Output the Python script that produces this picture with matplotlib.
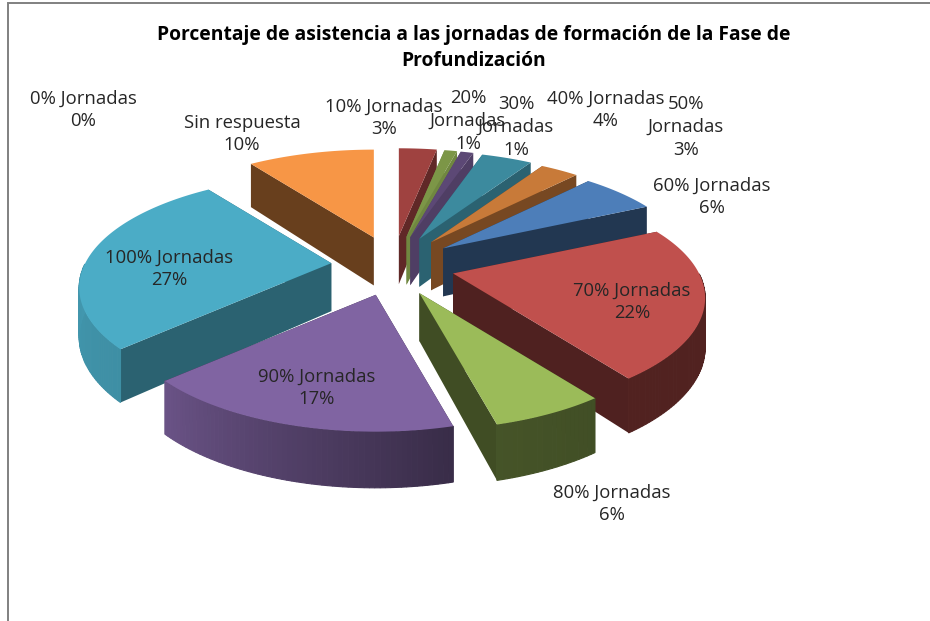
import numpy as np
import matplotlib
matplotlib.use("Agg")
import matplotlib.pyplot as plt
from matplotlib.colors import to_rgb
from matplotlib.patches import Polygon

# data, clockwise from 12 o'clock
categories = ["0% Jornadas", "10% Jornadas", "20% Jornadas", "30% Jornadas", "40% Jornadas",
              "50% Jornadas", "60% Jornadas", "70% Jornadas", "80% Jornadas", "90% Jornadas",
              "100% Jornadas", "Sin respuesta"]
values = [0, 3, 1, 1, 4, 3, 6, 22, 6, 17, 27, 10]
colors = ["#4F81BD", "#C0504D", "#9BBB59", "#8064A2", "#4BACC6", "#F79646",
          "#4F81BD", "#C0504D", "#9BBB59", "#8064A2", "#4BACC6", "#F79646"]
top_shade = [1, 0.83, 0.8, 0.72, 0.8, 0.81, 0.98, 1, 1, 1, 1, 1]
cut_shade = [0.42, 0.5, 0.72, 0.62, 0.57, 0.48, 0.43, 0.41, 0.41, 0.42, 0.57, 0.42]
title = "Porcentaje de asistencia a las jornadas de formación de la Fase de\nProfundización"

# label text as wrapped in the chart, with its centre in pixels
label_text = ["0% Jornadas\n0%", "10% Jornadas\n3%", "20%\nJornadas\n1%", "30%\nJornadas\n1%",
              "40% Jornadas\n4%", "50%\nJornadas\n3%", "60% Jornadas\n6%", "70% Jornadas\n22%",
              "80% Jornadas\n6%", "90% Jornadas\n17%", "100% Jornadas\n27%", "Sin respuesta\n10%"]
label_pos = [(83, 110), (384, 118), (468, 121), (516, 127), (606, 110), (686, 127), (712, 197),
             (632, 302), (612, 504), (317, 388), (169, 269), (242, 134)]

plt.rcParams["font.family"] = ["Open Sans", "DejaVu Sans"]

CX, CY = 393, 266
RX, RY = 246, 107
PERSP = 0.218
OFF_X, OFF_Y = 62, 30
DEPTH = 48


def project(ox, oy, u, v, z=0.0):
    # tip of the slice sits at ox, oy; local disc coords get the perspective, v towards viewer
    w = 1 / (1 - PERSP * v)
    return ox + RX * u * w, oy + RY * v * w + z * DEPTH * w ** 0.64


def shade(col, f):
    return tuple(c * f for c in to_rgb(col))


fig = plt.figure(figsize=(9.3, 6.21), dpi=100)
ax = fig.add_axes([0, 0, 1, 1])
ax.set_xlim(0, 930)
ax.set_ylim(621, 0)
ax.axis("off")

# frame of the chart area, cut off by the screenshot
ax.plot([8, 8, 930], [621, 3, 3], color="#808080", lw=1.4, solid_joinstyle="miter")

slices = []
start = 0.0
total = sum(values)
for val, col, ts, cs in zip(values, colors, top_shade, cut_shade):
    a0 = start / total * 2 * np.pi
    a1 = (start + val) / total * 2 * np.pi
    start += val
    if val == 0:
        continue
    mid = (a0 + a1) / 2
    ox = CX + OFF_X * np.sin(mid)
    oy = CY - OFF_Y * np.cos(mid)
    t = np.linspace(a0, a1, max(3, int((a1 - a0) * 60)))
    slices.append((a0, a1, mid, ox, oy, t, col, ts, cs))


def draw_slice(a0, a1, mid, ox, oy, t, col, ts, cs, zo):
    us = np.sin(t)
    vs = -np.cos(t)
    # radial cut walls
    for a in (a0, a1):
        ue, ve = np.sin(a), -np.cos(a)
        pts = [project(ox, oy, 0, 0), project(ox, oy, ue, ve), project(ox, oy, ue, ve, 1), project(ox, oy, 0, 0, 1)]
        ax.add_patch(Polygon(pts, closed=True, fc=shade(col, cs), ec="none", zorder=zo))
    # outer wall, only the part that faces the viewer
    for i in range(len(t) - 1):
        tm = (t[i] + t[i + 1]) / 2
        if -np.cos(tm) <= 0:
            continue
        f = np.interp(np.degrees(tm), [90, 144, 167, 227, 270], [0.42, 0.42, 0.45, 0.83, 0.88])
        pts = [project(ox, oy, us[i], vs[i]), project(ox, oy, us[i + 1], vs[i + 1]),
               project(ox, oy, us[i + 1], vs[i + 1], 1), project(ox, oy, us[i], vs[i], 1)]
        ax.add_patch(Polygon(pts, closed=True, fc=shade(col, f), ec=shade(col, f), lw=0.8, zorder=zo))
    # top face
    top = [project(ox, oy, 0, 0)] + [project(ox, oy, a, b) for a, b in zip(us, vs)]
    ax.add_patch(Polygon(top, closed=True, fc=shade(col, ts), ec="none", zorder=zo + 0.5))


# back to front
for n, s in enumerate(sorted(slices, key=lambda q: -np.cos(q[2]))):
    draw_slice(*s, 2 + n)

ax.text(474, 48, title, ha="center", va="center", fontsize=13.9, fontweight="bold",
        linespacing=1.42, zorder=50)
for txt, (x, y) in zip(label_text, label_pos):
    ax.text(x, y, txt, ha="center", va="center", fontsize=13.3, color="#262626",
            linespacing=1.35, zorder=50)

fig.savefig("out.png", dpi=100)
